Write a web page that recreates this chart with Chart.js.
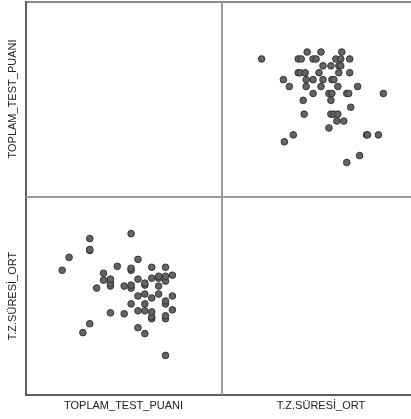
<!DOCTYPE html>
<html>
<head>
<meta charset="utf-8">
<script src="https://cdn.jsdelivr.net/npm/chart.js@4"></script>
<style>
  html, body { margin: 0; padding: 0; background: #fff; overflow: hidden; }
  body { width: 411px; height: 419px; position: relative; font-family: "Liberation Sans", Arial, sans-serif; }
  canvas { position: absolute; }
  .line { position: absolute; }
  .lbl { position: absolute; font-size: 11px; color: #222; white-space: nowrap; }
</style>
</head>
<body>
<canvas id="sagUst" width="198" height="195" style="left:222px;top:2px"></canvas>
<canvas id="solAlt" width="197" height="198" style="left:25px;top:197px"></canvas>

<div class="line" style="left:25px;top:1px;width:400px;height:2px;background:#8c8c8c"></div>
<div class="line" style="left:25px;top:1px;width:2px;height:395px;background:#5e5e5e"></div>
<div class="line" style="left:25px;top:394px;width:400px;height:2px;background:#5e5e5e"></div>
<div class="line" style="left:221px;top:2px;width:2px;height:393px;background:#9a9a9a"></div>
<div class="line" style="left:26px;top:196px;width:400px;height:2px;background:#9a9a9a"></div>

<div class="lbl" style="left:25px;width:197px;top:399px;text-align:center">TOPLAM_TEST_PUANI</div>
<div class="lbl" style="left:222px;width:198px;top:399px;text-align:center">T.Z.SÜRESİ_ORT</div>
<div class="lbl" style="left:12px;top:99px;transform:translate(-50%,-50%) rotate(-90deg)">TOPLAM_TEST_PUANI</div>
<div class="lbl" style="left:12px;top:296px;transform:translate(-50%,-50%) rotate(-90deg)">T.Z.SÜRESİ_ORT</div>

<script>
// her öğrencinin puanı ve ortalama süresi (aynı sırada)
const puan = [
  29, 29, 29, 29, 29, 29, 29, 29,
  30, 30, 30,
  28, 28, 28, 28,
  27, 27, 27, 27, 27, 27,
  26, 26, 26, 26, 26, 26,
  25, 25, 25, 25, 25,
  24, 24, 24, 24, 24, 24,
  23, 23,
  22,
  21, 21, 21, 21,
  20, 20,
  19,
  18, 18, 18, 18,
  17,
  15,
  14
];
const sure = [
  4.0, 7.7, 8.0, 9.2, 9.5, 11.5, 12.0, 12.9,
  8.6, 10.0, 12.1,
  10.2, 11.0, 11.8, 12.0,
  7.7, 7.9, 8.4, 9.8, 11.8, 12.9,
  6.2, 8.5, 9.2, 10.2, 11.1, 11.3,
  6.8, 8.5, 10.0, 11.7, 13.7,
  9.2, 10.8, 11.1, 12.6, 12.8, 16.3,
  8.2, 11.0,
  13.0,
  8.3, 11.0, 11.3, 11.7,
  11.6, 12.3,
  10.8,
  7.2, 14.6, 14.7, 15.8,
  6.3,
  13.9,
  12.6
];

// eksen aralıkları (dikey ve yatay hücrelerde)
const puanDikey = [9.0, 37.25];
const puanYatay = [8.6, 37.2];
const sureAralik = [0, 20];

function noktaCiz(canvas, xler, yler, xAralik, yAralik) {
  new Chart(canvas, {
    type: "scatter",
    data: {
      datasets: [{
        data: xler.map((x, i) => ({ x: x, y: yler[i] })),
        pointRadius: 3.3,
        pointBackgroundColor: "#646464",
        pointBorderColor: "#333",
        pointBorderWidth: 1,
        clip: false
      }]
    },
    options: {
      responsive: false,
      animation: false,
      devicePixelRatio: 1,
      layout: { padding: 0, autoPadding: false },
      plugins: { legend: { display: false }, tooltip: { enabled: false } },
      scales: {
        x: { type: "linear", display: false, min: xAralik[0], max: xAralik[1] },
        y: { type: "linear", display: false, min: yAralik[0], max: yAralik[1] }
      }
    }
  });
}

document.addEventListener("DOMContentLoaded", () => {
  noktaCiz(document.getElementById("sagUst"), sure, puan, sureAralik, puanDikey);
  noktaCiz(document.getElementById("solAlt"), puan, sure, puanYatay, sureAralik);
});
</script>
</body>
</html>
